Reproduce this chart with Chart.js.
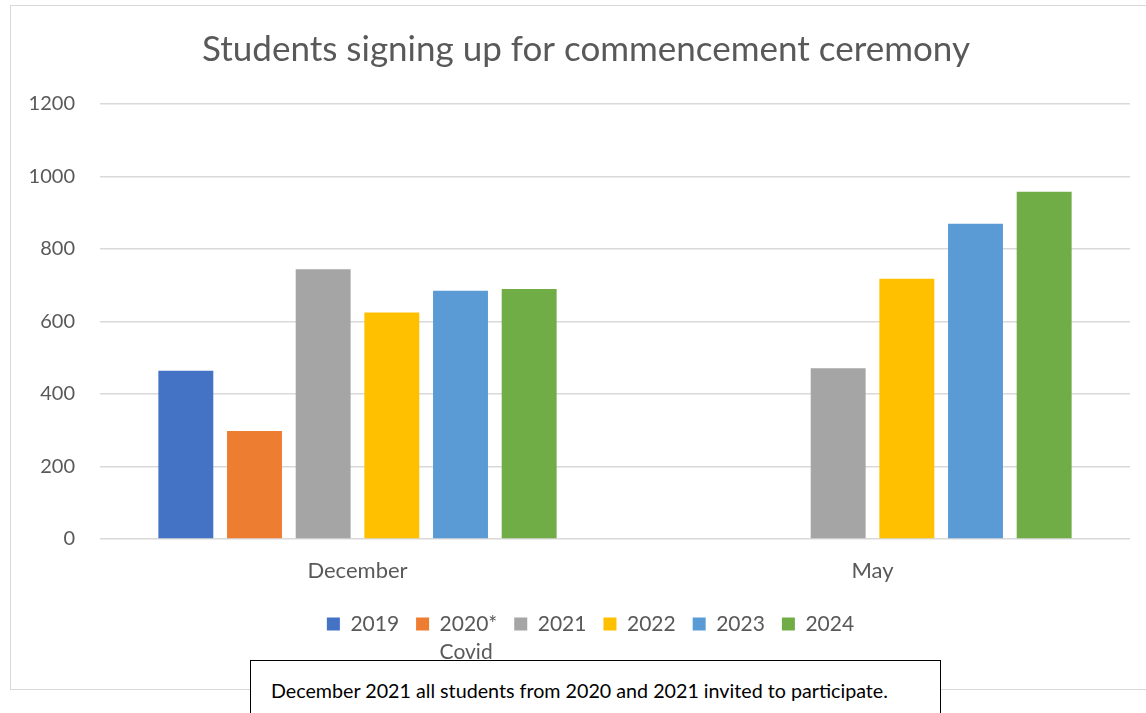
<!DOCTYPE html>
<html>
<head>
<meta charset="utf-8">
<script src="https://cdn.jsdelivr.net/npm/chart.js@4"></script>
<style>
  body { margin: 0; background: #fff; width: 1146px; height: 713px; overflow: hidden; position: relative; font-family: Lato, sans-serif; }
  #frame { position: absolute; left: 10px; top: 5px; width: 1150px; height: 685px; border: 1px solid #d9d9d9; box-sizing: border-box; }
  #chartBox { position: absolute; left: 0; top: 0; width: 1140px; height: 683px; }
  #note { position: absolute; left: 250px; top: 660px; width: 691px; height: 70px; border: 1px solid #000; background: #fff; box-sizing: border-box;
          font-family: Lato, sans-serif; font-size: 19.7px; color: #000; padding: 18px 0 0 20px; white-space: nowrap; }
</style>
</head>
<body>
<div id="frame">
  <div id="chartBox"><canvas id="signupChart"></canvas></div>
</div>
<div id="note">December 2021 all students from 2020 and 2021 invited to participate.</div>

<script>
// chart data
const categories = ['December', 'May'];
const seriesLabels = ['2019', '2020*', '2021', '2022', '2023', '2024'];
const values2019 = [464, null];
const values2020 = [298, null];
const values2021 = [744, 471];
const values2022 = [625, 718];
const values2023 = [685, 870];
const values2024 = [690, 958];
const yTicks = [0, 200, 400, 600, 800, 1000, 1200];

const seriesColors = ['#4472C4', '#ED7D31', '#A5A5A5', '#FFC000', '#5B9BD5', '#70AD47'];
const seriesValues = [values2019, values2020, values2021, values2022, values2023, values2024];
const textGray = '#595959';

// Excel centres title and legend a bit right of the canvas middle
const shiftHeader = {
    id: 'shiftHeader',
    afterLayout(chart) {
        if (chart.titleBlock) chart.titleBlock.left += 31;
        if (chart.legend) chart.legend.left += 40;
    }
};

// Excel wraps the 2020 label onto a second line; draw that line under the legend item
const legendSubLine = {
    id: 'legendSubLine',
    afterDraw(chart) {
        const legend = chart.legend;
        if (!legend || !legend.legendHitBoxes[1]) return;
        const box = legend.legendHitBoxes[1];
        const fontSize = legend.options.labels.font.size;
        const ctx = chart.ctx;
        ctx.save();
        ctx.font = fontSize + 'px Lato, sans-serif';
        ctx.fillStyle = textGray;
        ctx.textBaseline = 'middle';
        ctx.fillText('Covid', box.left + legend.options.labels.boxWidth + fontSize / 2, box.top + box.height / 2 + fontSize * 1.35);
        ctx.restore();
    }
};

function initializeChart() {
    const ctx = document.getElementById('signupChart').getContext('2d');

    new Chart(ctx, {
        type: 'bar',
        data: {
            labels: categories,
            datasets: seriesLabels.map((label, i) => ({
                label: label,
                data: seriesValues[i],
                backgroundColor: seriesColors[i],
                categoryPercentage: 0.8,
                barPercentage: 0.8
            }))
        },
        options: {
            responsive: true,
            maintainAspectRatio: false,
            animation: false,
            layout: { padding: { top: 0, right: 21, bottom: 44.5, left: 0 } },
            plugins: {
                title: {
                    display: true,
                    text: 'Students signing up for commencement ceremony',
                    color: textGray,
                    font: { family: 'Lato', size: 35, weight: 'normal' },
                    padding: { top: 23, bottom: 33 }
                },
                legend: {
                    position: 'bottom',
                    labels: {
                        color: textGray,
                        font: { family: 'Lato', size: 21 },
                        boxWidth: 13,
                        boxHeight: 13,
                        padding: 17
                    }
                },
                tooltip: { enabled: false }
            },
            scales: {
                x: {
                    grid: { display: false },
                    border: { display: false },
                    ticks: { color: textGray, font: { family: 'Lato', size: 22 }, padding: 11 },
                    afterFit: scale => { scale.height = 57.5; }
                },
                y: {
                    min: 0,
                    max: 1200,
                    grid: { color: '#d9d9d9', lineWidth: 1.5, drawTicks: false },
                    border: { display: false },
                    ticks: {
                        color: textGray,
                        font: { family: 'Lato', size: 20 },
                        padding: 25,
                        stepSize: 200,
                        callback: value => yTicks.includes(value) ? value : ''
                    },
                    afterFit: scale => { scale.width = 89; }
                }
            }
        },
        plugins: [shiftHeader, legendSubLine]
    });
}

document.addEventListener('DOMContentLoaded', initializeChart);
</script>
</body>
</html>
